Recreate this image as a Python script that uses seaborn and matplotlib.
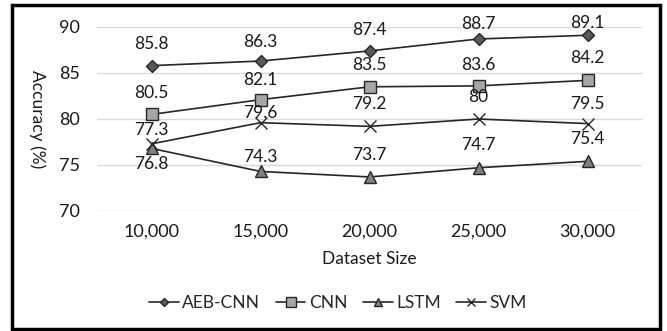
import matplotlib
matplotlib.use("Agg")
import matplotlib.pyplot as plt
import seaborn as sns
import pandas as pd
from matplotlib.patches import Rectangle

sizes = ["10,000", "15,000", "20,000", "25,000", "30,000"]
aeb_cnn = [85.8, 86.3, 87.4, 88.7, 89.1]
cnn = [80.5, 82.1, 83.5, 83.6, 84.2]
lstm = [76.8, 74.3, 73.7, 74.7, 75.4]
svm = [77.3, 79.6, 79.2, 80, 79.5]
yticks = [70, 75, 80, 85, 90]

series = {"AEB-CNN": aeb_cnn, "CNN": cnn, "LSTM": lstm, "SVM": svm}
styles = {
    "AEB-CNN": dict(marker="D", markersize=6, markerfacecolor="#595959"),
    "CNN": dict(marker="s", markersize=9, markerfacecolor="#a6a6a6"),
    "LSTM": dict(marker="^", markersize=8, markerfacecolor="#7f7f7f"),
    "SVM": dict(marker="x", markersize=8, markerfacecolor="#262626"),
}
# label vertical offsets in pixels (positive = above)
label_off = {
    "AEB-CNN": [22, 19, 21, 15, 12],
    "CNN": [21, 20, 22, 21, 22],
    "LSTM": [-16, 14, 22, 23, 22],
    "SVM": [14, 10, 22, 22, 20],
}

sns.set_theme(style="white")
plt.rcParams["font.family"] = ["Lato", "DejaVu Sans"]

fig = plt.figure(figsize=(6.67, 3.31), dpi=100)
W, H = 667, 331
ax = fig.add_axes([97 / W, 1 - 211 / H, (642 - 97) / W, (211 - 27) / H])

rows = []
for name, vals in series.items():
    for s, v in zip(sizes, vals):
        rows.append(dict(size=s, acc=v, model=name))
df = pd.DataFrame(rows)

line_color = "#262626"
for name in series:
    sub = df[df.model == name]
    sns.lineplot(data=sub, x="size", y="acc", ax=ax, color=line_color,
                 linewidth=1.2, markeredgecolor=line_color, markeredgewidth=1.0,
                 label=name, sort=False, **styles[name])
    for i, (s, v) in enumerate(zip(sub["size"], sub["acc"])):
        off = label_off[name][i] * 0.72
        ax.annotate(f"{v:g}", (i, v), xytext=(0, off), textcoords="offset points",
                    ha="center", va="center", fontsize=12.5, color="#1a1a1a")

ax.set_xlim(-0.5, 4.5)
ax.set_ylim(70, 90)
ax.set_yticks(yticks)
ax.grid(axis="y", color="#d9d9d9", linewidth=1)
ax.grid(axis="x", visible=False)
for sp in ax.spines.values():
    sp.set_visible(False)
ax.tick_params(axis="both", length=0, labelsize=13, colors="#1a1a1a")
ax.tick_params(axis="y", pad=12)
ax.tick_params(axis="x", pad=9)
ax.set_xlabel("Dataset Size", fontsize=12.5, color="#1a1a1a", labelpad=8)
ax.set_ylabel("Accuracy (%)", fontsize=12.5, color="#1a1a1a", rotation=270,
              va="center", ha="center")
ax.yaxis.set_label_coords(-(97 - 37) / 545, 0.5)

handles, labels = ax.get_legend_handles_labels()
ax.get_legend().remove()
fig.legend(handles, labels, loc="center", bbox_to_anchor=(338 / W, 1 - 303 / H),
           ncol=4, frameon=False, fontsize=12.5, handlelength=1.7, handletextpad=0.2,
           columnspacing=0.9, markerscale=0.75)

fig.patches.append(Rectangle((12 / W, 1 - 329 / H), (660 - 12) / W, (329 - 5) / H,
                             transform=fig.transFigure, fill=False, edgecolor="black",
                             linewidth=2.5))

fig.savefig("out.png", dpi=100)
